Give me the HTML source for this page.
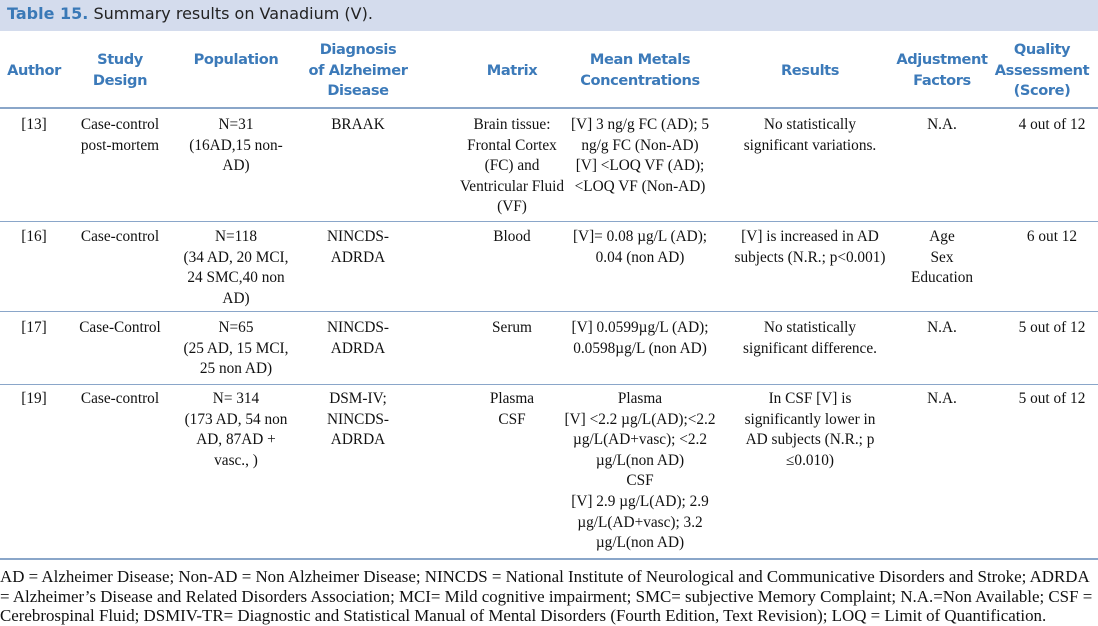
<!DOCTYPE html>
<html><head><meta charset="utf-8"><style>
body{margin:0;width:1098px;height:624px;background:#fff;position:relative;overflow:hidden;font-family:"Liberation Serif",serif;color:#111}
.t{position:absolute;left:0;top:0;width:1098px;height:31px;background:#d4dced}
.t span{position:absolute;left:7px;top:4px;font-family:"DejaVu Sans",sans-serif;font-size:16px;color:#222;white-space:nowrap}
.t b{color:#3a79b7}
.h{position:absolute;font-family:"DejaVu Sans",sans-serif;font-weight:bold;font-size:14.6px;line-height:20.7px;color:#3c7ab9;text-align:center;letter-spacing:-0.4px;white-space:nowrap}
.c{position:absolute;font-size:15.3px;line-height:20.6px;text-align:center;white-space:nowrap}
.l{position:absolute;left:0;width:1098px;height:1px;background:#8aa6c9}
.f{position:absolute;left:0;top:567px;font-size:16.9px;line-height:19.6px;white-space:nowrap}
</style></head><body>
<div class="t"><span><b>Table 15.</b> Summary results on Vanadium (V).</span></div>
<div class="h" style="left:0;width:68px;top:61px">Author</div>
<div class="h" style="left:70px;width:100px;top:50px">Study<br>Design</div>
<div class="h" style="left:176px;width:120px;top:50px">Population</div>
<div class="h" style="left:298px;width:120px;top:40px">Diagnosis<br>of Alzheimer<br>Disease</div>
<div class="h" style="left:452px;width:120px;top:61px">Matrix</div>
<div class="h" style="left:560px;width:160px;top:50px">Mean Metals<br>Concentrations</div>
<div class="h" style="left:750px;width:120px;top:61px">Results</div>
<div class="h" style="left:892px;width:100px;top:50px">Adjustment<br>Factors</div>
<div class="h" style="left:992px;width:100px;top:40px">Quality<br>Assessment<br>(Score)</div>
<div class="l" style="top:107px;height:2px"></div>

<div class="c" style="left:0;width:68px;top:115px">[13]</div>
<div class="c" style="left:70px;width:100px;top:115px">Case-control<br>post-mortem</div>
<div class="c" style="left:176px;width:120px;top:115px">N=31<br>(16AD,15 non-<br>AD)</div>
<div class="c" style="left:298px;width:120px;top:115px">BRAAK</div>
<div class="c" style="left:437px;width:150px;top:115px">Brain tissue:<br>Frontal Cortex<br>(FC) and<br>Ventricular Fluid<br>(VF)</div>
<div class="c" style="left:560px;width:160px;top:115px">[V] 3 ng/g FC (AD); 5<br>ng/g FC (Non-AD)<br>[V] &lt;LOQ VF (AD);<br>&lt;LOQ VF (Non-AD)</div>
<div class="c" style="left:730px;width:160px;top:115px">No statistically<br>significant variations.</div>
<div class="c" style="left:892px;width:100px;top:115px">N.A.</div>
<div class="c" style="left:1002px;width:100px;top:115px">4 out of 12</div>
<div class="l" style="top:221px"></div>

<div class="c" style="left:0;width:68px;top:227px">[16]</div>
<div class="c" style="left:70px;width:100px;top:227px">Case-control</div>
<div class="c" style="left:166px;width:140px;top:227px">N=118<br>(34 AD, 20 MCI,<br>24 SMC,40 non<br>AD)</div>
<div class="c" style="left:298px;width:120px;top:227px">NINCDS-<br>ADRDA</div>
<div class="c" style="left:452px;width:120px;top:227px">Blood</div>
<div class="c" style="left:560px;width:160px;top:227px">[V]= 0.08 µg/L (AD);<br>0.04 (non AD)</div>
<div class="c" style="left:730px;width:160px;top:227px">[V] is increased in AD<br>subjects (N.R.; p&lt;0.001)</div>
<div class="c" style="left:892px;width:100px;top:227px">Age<br>Sex<br>Education</div>
<div class="c" style="left:1002px;width:100px;top:227px">6 out 12</div>
<div class="l" style="top:311px"></div>

<div class="c" style="left:0;width:68px;top:318px">[17]</div>
<div class="c" style="left:70px;width:100px;top:318px">Case-Control</div>
<div class="c" style="left:166px;width:140px;top:318px">N=65<br>(25 AD, 15 MCI,<br>25 non AD)</div>
<div class="c" style="left:298px;width:120px;top:318px">NINCDS-<br>ADRDA</div>
<div class="c" style="left:452px;width:120px;top:318px">Serum</div>
<div class="c" style="left:560px;width:160px;top:318px">[V] 0.0599µg/L (AD);<br>0.0598µg/L (non AD)</div>
<div class="c" style="left:730px;width:160px;top:318px">No statistically<br>significant difference.</div>
<div class="c" style="left:892px;width:100px;top:318px">N.A.</div>
<div class="c" style="left:1002px;width:100px;top:318px">5 out of 12</div>
<div class="l" style="top:384px"></div>

<div class="c" style="left:0;width:68px;top:389px">[19]</div>
<div class="c" style="left:70px;width:100px;top:389px">Case-control</div>
<div class="c" style="left:166px;width:140px;top:389px">N= 314<br>(173 AD, 54 non<br>AD, 87AD +<br>vasc., )</div>
<div class="c" style="left:298px;width:120px;top:389px">DSM-IV;<br>NINCDS-<br>ADRDA</div>
<div class="c" style="left:452px;width:120px;top:389px">Plasma<br>CSF</div>
<div class="c" style="left:550px;width:180px;top:389px">Plasma<br>[V] &lt;2.2 µg/L(AD);&lt;2.2<br>µg/L(AD+vasc); &lt;2.2<br>µg/L(non AD)<br>CSF<br>[V] 2.9 µg/L(AD); 2.9<br>µg/L(AD+vasc); 3.2<br>µg/L(non AD)</div>
<div class="c" style="left:730px;width:160px;top:389px">In CSF [V] is<br>significantly lower in<br>AD subjects (N.R.; p<br>≤0.010)</div>
<div class="c" style="left:892px;width:100px;top:389px">N.A.</div>
<div class="c" style="left:1002px;width:100px;top:389px">5 out of 12</div>
<div class="l" style="top:558px;height:2px"></div>

<div class="f">AD = Alzheimer Disease; Non-AD = Non Alzheimer Disease; NINCDS = National Institute of Neurological and Communicative Disorders and Stroke; ADRDA<br>= Alzheimer’s Disease and Related Disorders Association; MCI= Mild cognitive impairment; SMC= subjective Memory Complaint; N.A.=Non Available; CSF =<br>Cerebrospinal Fluid; DSMIV-TR= Diagnostic and Statistical Manual of Mental Disorders (Fourth Edition, Text Revision); LOQ = Limit of Quantification.</div>
</body></html>
